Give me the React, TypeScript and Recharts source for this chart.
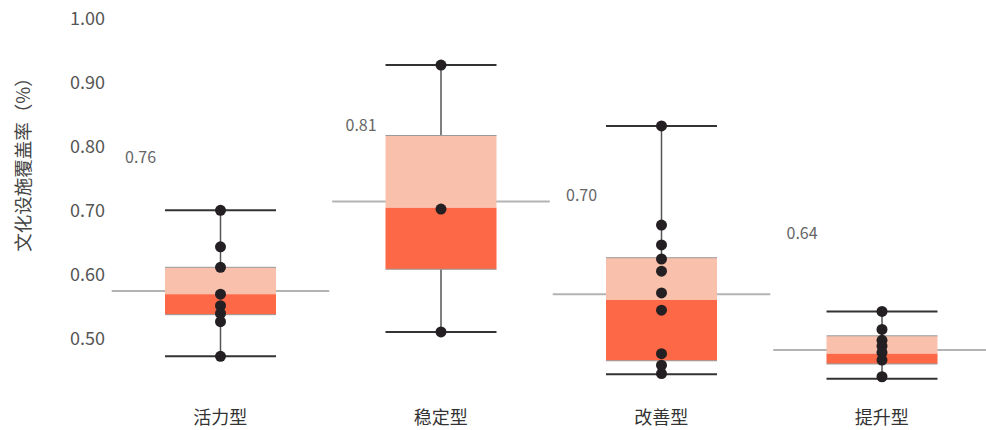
import { Bar, ComposedChart, XAxis, YAxis } from "recharts";

const FONT = '"Noto Sans CJK SC", "Noto Sans", sans-serif';
const LIGHT = "#f9c1ab";
const DARK = "#fd6947";

const categories = ["活力型", "稳定型", "改善型", "提升型"];
const whiskerLow = [0.473, 0.511, 0.445, 0.438];
const boxLow = [0.538, 0.609, 0.466, 0.461];
const boxMid = [0.57, 0.705, 0.561, 0.477];
const boxHigh = [0.612, 0.818, 0.627, 0.505];
const whiskerHigh = [0.701, 0.928, 0.833, 0.543];
const refLine = [0.575, 0.715, 0.57, 0.483];
const scoreLabels = [0.76, 0.81, 0.7, 0.64];
const points = [
  [0.701, 0.644, 0.612, 0.57, 0.552, 0.54, 0.527, 0.473],
  [0.928, 0.703, 0.511],
  [0.833, 0.678, 0.647, 0.625, 0.606, 0.572, 0.545, 0.477, 0.459, 0.446],
  [0.543, 0.515, 0.498, 0.489, 0.479, 0.467, 0.441],
];
const yTicks = [0.5, 0.6, 0.7, 0.8, 0.9, 1.0];

const data = categories.map((name, i) => ({
  name,
  range: [whiskerLow[i], whiskerHigh[i]],
  lo: whiskerLow[i],
  q1: boxLow[i],
  med: boxMid[i],
  q3: boxHigh[i],
  hi: whiskerHigh[i],
  ref: refLine[i],
  score: scoreLabels[i],
  pts: points[i],
}));

// the range bar gives the whisker span in pixels; everything else is mapped from it
function BoxShape(props: any) {
  const { x, y, width, height, payload } = props;
  const p = payload;
  const k = height / (p.hi - p.lo);
  const py = (v: number) => y + (p.hi - v) * k;
  const cx = x + width / 2;
  const ext = width * 0.48;
  return (
    <g>
      <line x1={x - ext} x2={x + width + ext} y1={py(p.ref)} y2={py(p.ref)} stroke="#b3b3b3" strokeWidth={2} />
      <line x1={cx} x2={cx} y1={py(p.hi)} y2={py(p.lo)} stroke="#555" strokeWidth={1.5} />
      <rect x={x} y={py(p.q3)} width={width} height={py(p.med) - py(p.q3)} fill={LIGHT} />
      <rect x={x} y={py(p.med)} width={width} height={py(p.q1) - py(p.med)} fill={DARK} />
      <line x1={x} x2={x + width} y1={py(p.q3)} y2={py(p.q3)} stroke="#999" strokeWidth={1} />
      <line x1={x} x2={x + width} y1={py(p.q1)} y2={py(p.q1)} stroke="#999" strokeWidth={1} />
      <line x1={x} x2={x + width} y1={py(p.hi)} y2={py(p.hi)} stroke="#333" strokeWidth={2} />
      <line x1={x} x2={x + width} y1={py(p.lo)} y2={py(p.lo)} stroke="#333" strokeWidth={2} />
      {p.pts.map((v: number, j: number) => (
        <circle key={j} cx={cx} cy={py(v)} r={5.5} fill="#231f22" />
      ))}
      <text
        x={x - 40}
        y={py(p.score) - 17}
        dominantBaseline="central"
        fontSize={16}
        fill="#666"
        fontFamily={FONT}
      >
        {p.score.toFixed(2)}
      </text>
    </g>
  );
}

export default function App() {
  return (
    <div style={{ position: "absolute", left: 0, top: 0, width: 986, height: 430, overflow: "hidden", background: "#fff" }}>
      <ComposedChart
        width={992}
        height={430}
        data={data}
        margin={{ top: 19, right: 0, bottom: 0, left: 0 }}
        style={{ fontFamily: FONT }}
      >
        <XAxis
          dataKey="name"
          axisLine={false}
          tickLine={false}
          height={27}
          tick={{ fill: "#333", fontSize: 18, fontFamily: FONT }}
        />
        <YAxis
          domain={[0.4, 1.0]}
          ticks={yTicks}
          axisLine={false}
          tickLine={false}
          tickSize={0}
          tickMargin={5}
          width={110}
          tickFormatter={(v: number) => v.toFixed(2)}
          tick={{ fill: "#555", fontSize: 18, fontFamily: FONT }}
          label={(lp: any) => {
            const vb = lp.viewBox;
            const lx = vb.x + 22;
            const ly = vb.y + 141;
            return (
              <text
                x={lx}
                y={ly}
                transform={`rotate(-90 ${lx} ${ly})`}
                textAnchor="middle"
                dominantBaseline="central"
                fontSize={18.5}
                fill="#444"
                fontFamily={FONT}
              >
                文化设施覆盖率（%）
              </text>
            );
          }}
        />
        <Bar dataKey="range" barSize={111} shape={BoxShape} isAnimationActive={false} />
      </ComposedChart>
    </div>
  );
}
